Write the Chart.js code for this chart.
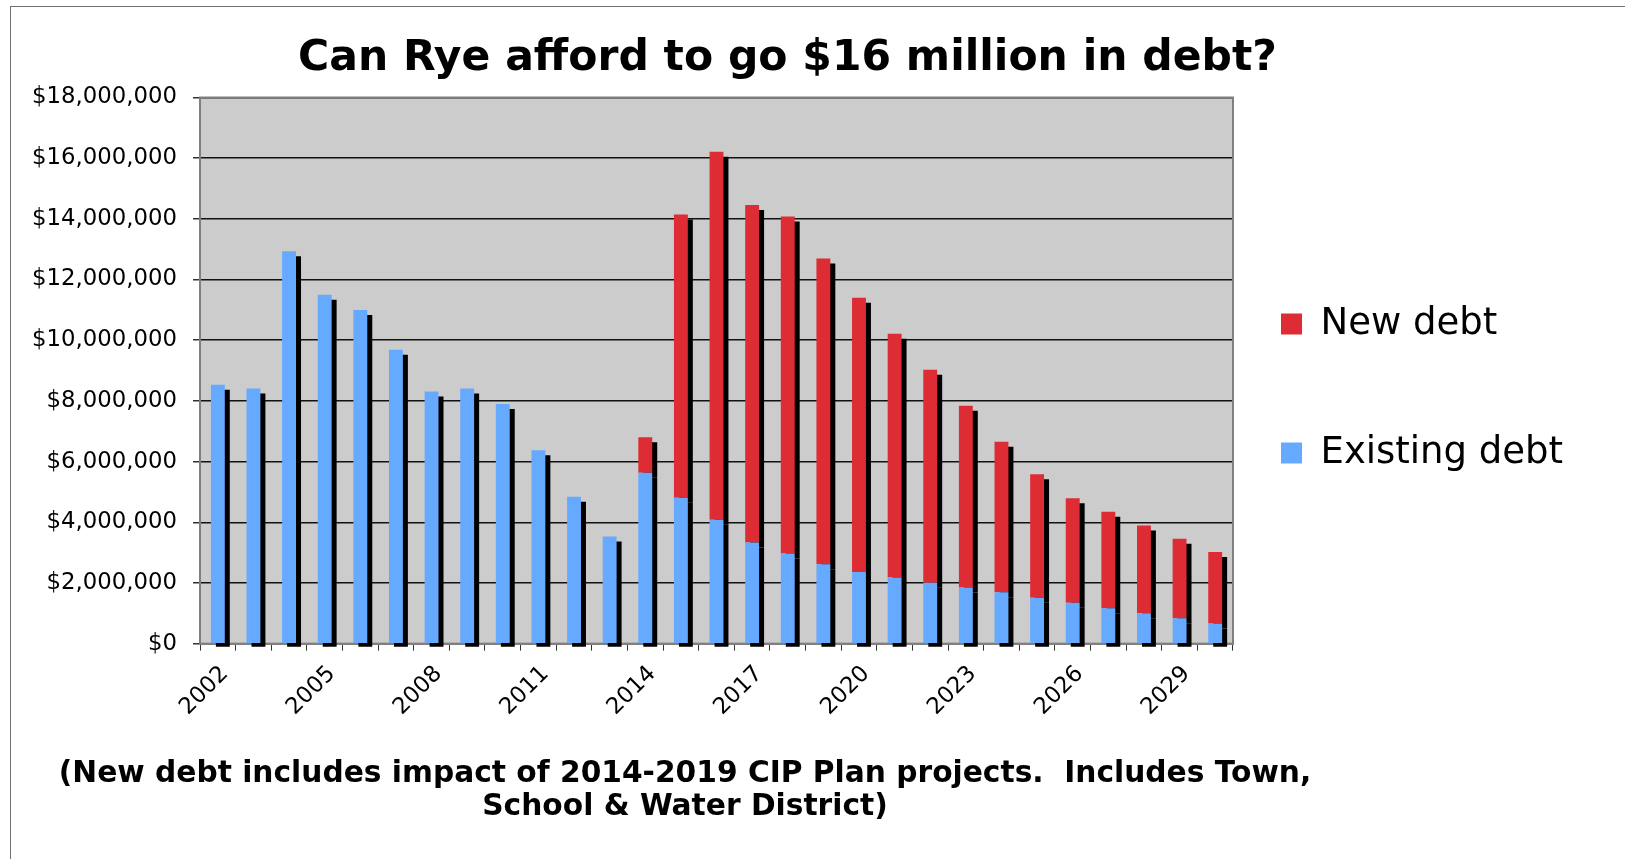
<!DOCTYPE html>
<html>
<head>
<meta charset="utf-8">
<title>Rye debt</title>
<script src="https://cdn.jsdelivr.net/npm/chart.js@4.4.1/dist/chart.umd.min.js"></script>
<style>
  html, body { margin: 0; padding: 0; background: #fff; overflow: hidden; }
  #frame {
    position: absolute; left: 10px; top: 6px; width: 1700px; height: 900px;
    border-left: 1px solid #707070; border-top: 1px solid #707070;
  }
  #box { position: absolute; left: 10px; top: 6px; width: 1555px; height: 853px; }
  #note {
    position: absolute; left: 0; width: 1370px; top: 755px;
    text-align: center; white-space: pre;
    font: bold 29.7px 'DejaVu Sans', sans-serif; line-height: 33px; color: #000;
  }
</style>
</head>
<body>
<div id="frame"></div>
<div id="box"><canvas id="debtChart"></canvas></div>
<div id="note">(New debt includes impact of 2014-2019 CIP Plan projects.  Includes Town,
School &amp; Water District)</div>

<script>
// Debt service by year, in dollars
const years = ['2002', '2003', '2004', '2005', '2006', '2007', '2008', '2009', '2010',
               '2011', '2012', '2013', '2014', '2015', '2016', '2017', '2018', '2019',
               '2020', '2021', '2022', '2023', '2024', '2025', '2026', '2027', '2028',
               '2029', '2030'];

const existingDebt = [8530000, 8410000, 12930000, 11500000, 11000000, 9690000, 8310000,
                      8410000, 7900000, 6370000, 4840000, 3530000, 5630000, 4810000,
                      4080000, 3330000, 2970000, 2620000, 2360000, 2180000, 2010000,
                      1850000, 1690000, 1510000, 1350000, 1170000, 1000000, 840000, 660000];

const newDebt = [0, 0, 0, 0, 0, 0, 0, 0, 0, 0, 0, 0,
                 1170000, 9330000, 12130000, 11130000, 11110000, 10070000, 9040000,
                 8030000, 7020000, 5990000, 4960000, 4070000, 3440000, 3180000,
                 2890000, 2620000, 2360000];

const yMax = 18000000;
const yStep = 2000000;
const labelEvery = 3; // only every third year gets a label

Chart.defaults.font.family = "'DejaVu Sans', sans-serif";
Chart.defaults.color = '#000';

// grey plot area with a grey frame
const plotFrame = {
  id: 'plotFrame',
  beforeDraw(chart) {
    const { ctx, chartArea: a } = chart;
    ctx.save();
    ctx.fillStyle = '#cccccc';
    ctx.fillRect(a.left, a.top, a.width, a.height);
    ctx.restore();
  },
  beforeDatasetsDraw(chart) {
    const { ctx, chartArea: a } = chart;
    ctx.save();
    ctx.strokeStyle = '#808080';
    ctx.lineWidth = 2;
    ctx.strokeRect(a.left, a.top, a.width, a.height);
    ctx.restore();
  }
};

// solid black drop shadow behind the columns
const barShadow = {
  id: 'barShadow',
  beforeDatasetsDraw(chart) {
    const ctx = chart.ctx;
    ctx.save();
    ctx.shadowColor = '#000';
    ctx.shadowBlur = 0;
    ctx.shadowOffsetX = 5;
    ctx.shadowOffsetY = 5;
  },
  afterDatasetsDraw(chart) {
    chart.ctx.restore();
  }
};

// move the legend a little closer to the plot and lower
const legendNudge = {
  id: 'legendNudge',
  afterLayout(chart) {
    const lg = chart.legend;
    lg.left -= 44;
    lg.right = chart.width;
    lg.top += 18; lg.bottom += 18;
  }
};

new Chart(document.getElementById('debtChart'), {
  type: 'bar',
  data: {
    labels: years,
    datasets: [
      {
        label: 'Existing debt',
        data: existingDebt,
        backgroundColor: '#66aaff',
        clip: { left: 0, top: 0, right: 8, bottom: 3 }
      },
      {
        label: 'New debt',
        data: newDebt,
        backgroundColor: '#dd2c33',
        clip: { left: 0, top: 0, right: 8, bottom: 3 }
      }
    ]
  },
  options: {
    responsive: true,
    maintainAspectRatio: false,
    animation: false,
    layout: { padding: { left: 6, right: 6, top: 0, bottom: 128 } },
    datasets: {
      bar: { categoryPercentage: 1, barPercentage: 0.39 }
    },
    plugins: {
      title: {
        display: true,
        text: 'Can Rye afford to go $16 million in debt?',
        font: { size: 42.5, weight: 'bold' },
        color: '#000',
        padding: { top: 27, bottom: 13.5 }
      },
      legend: {
        position: 'right',
        fullSize: false,
        maxWidth: 326,
        reverse: true,
        labels: {
          font: { size: 37 },
          color: '#000',
          boxWidth: 21,
          boxHeight: 21,
          padding: 92
        }
      },
      tooltip: { enabled: false }
    },
    scales: {
      x: {
        stacked: true,
        offset: true,
        border: { color: '#808080', width: 2 },
        grid: {
          offset: true,
          drawOnChartArea: false,
          drawTicks: true,
          tickLength: 7,
          tickColor: '#333'
        },
        ticks: {
          autoSkip: false,
          maxRotation: 45,
          minRotation: 45,
          padding: 10,
          labelOffset: 7,
          font: { size: 22.8 },
          callback: function(value, index) {
            return index % labelEvery === 0 ? this.getLabelForValue(value) : '';
          }
        }
      },
      y: {
        stacked: true,
        min: 0,
        max: yMax,
        border: { color: '#808080', width: 2 },
        grid: {
          color: '#111',
          lineWidth: 1.5,
          tickLength: 7,
          tickColor: '#333'
        },
        ticks: {
          stepSize: yStep,
          padding: 16,
          font: { size: 22.8 },
          callback: (v) => '$' + v.toLocaleString('en-US')
        }
      }
    }
  },
  plugins: [plotFrame, barShadow, legendNudge]
});
</script>
</body>
</html>
